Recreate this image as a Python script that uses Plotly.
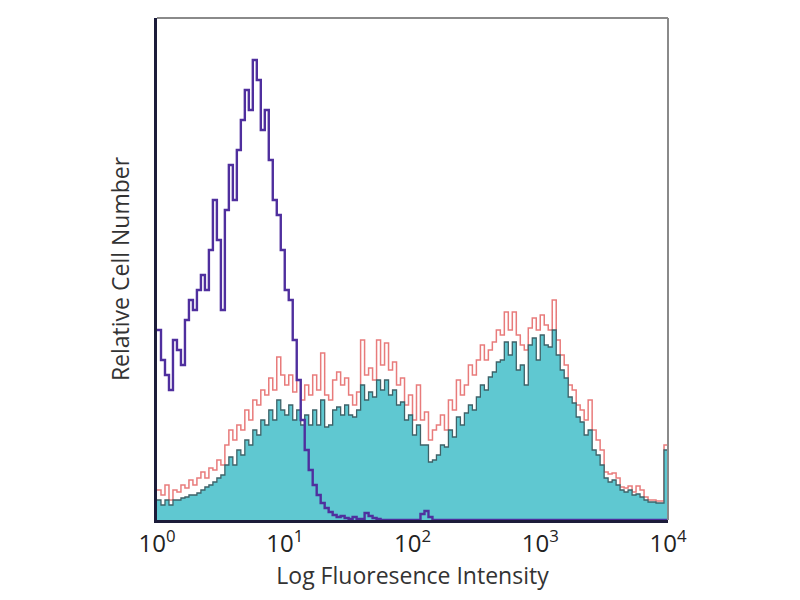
import plotly.graph_objects as go

# Histogram channels: 128 bins, 32 per decade, from 10^0 to 10^4
n_bins = 128
bins_per_decade = 32

# Relative cell number (0-100 scale)
isotype = [38, 32, 29, 26, 36, 34, 31, 40, 44, 42, 46, 49, 46, 54, 64, 56,
           42, 62, 71, 64, 74, 80, 86, 82, 92, 88, 78, 82, 72, 64, 61, 54,
           46, 44, 36, 28, 20, 14, 10, 7, 5, 3.4, 2.4, 1.6, 1.0, 0.6, 0.8, 0.4,
           0.2, 0.6, 0.2, 0.2, 1.4, 0.8, 0.4, 0.2, 0, 0, 0, 0, 0, 0, 0, 0,
           0, 0, 1.2, 1.8, 0.6, 0, 0, 0, 0, 0, 0, 0, 0, 0, 0, 0,
           0, 0, 0, 0, 0, 0, 0, 0, 0, 0, 0, 0, 0, 0, 0, 0,
           0, 0, 0, 0, 0, 0, 0, 0, 0, 0, 0, 0, 0, 0, 0, 0,
           0, 0, 0, 0, 0, 0, 0, 0, 0, 0, 0, 0, 0, 0, 0, 0]

stained_fill = [4.0, 3.0, 4.0, 3.0, 4.0, 4.0, 4.4, 4.6, 5.0, 5.0, 5.4, 6.0, 6.6, 7.0, 7.6, 8.4,
                9.0, 11.0, 12.6, 11.0, 14.0, 13.0, 16.0, 15.0, 18.0, 17.0, 20.0, 19.0, 22.0, 20.0, 24.0, 22.0,
                21.0, 23.0, 20.0, 22.0, 19.0, 21.0, 19.0, 22.0, 19.0, 24.0, 18.6, 19.0, 22.0, 22.6, 21.0, 23.0,
                21.0, 20.6, 22.0, 27.0, 24.0, 25.6, 24.6, 28.0, 26.0, 28.0, 25.0, 26.0, 23.0, 23.6, 20.0, 21.0,
                17.0, 19.0, 15.0, 15.0, 11.6, 12.0, 13.0, 15.0, 14.6, 18.0, 16.6, 20.6, 19.0, 21.4, 23.0, 22.0,
                24.6, 27.0, 26.0, 28.6, 29.6, 31.6, 32.0, 35.6, 33.0, 35.6, 30.0, 31.0, 27.0, 35.0, 36.4, 32.0,
                37.0, 35.0, 34.6, 38.0, 33.0, 30.0, 28.4, 24.6, 23.4, 20.6, 19.6, 17.0, 18.0, 14.0, 13.0, 11.0,
                8.4, 7.6, 8.0, 7.0, 6.0, 5.6, 6.0, 5.0, 5.2, 4.6, 4.0, 3.6, 3.6, 3.4, 3.4, 14.0]

stained_line = [6.0, 5.0, 7.0, 4.0, 6.0, 5.6, 7.0, 6.4, 8.0, 7.0, 8.4, 9.6, 8.4, 10.4, 10.0, 12.0,
                11.0, 15.0, 18.0, 16.0, 19.0, 18.0, 22.0, 20.0, 24.0, 23.0, 26.0, 25.0, 28.4, 26.0, 32.6, 29.0,
                27.0, 29.0, 25.6, 28.0, 24.0, 27.0, 25.0, 29.0, 26.0, 33.4, 25.0, 24.0, 28.0, 29.6, 27.0, 28.4,
                25.0, 23.0, 25.6, 36.0, 29.0, 30.4, 28.0, 36.0, 31.0, 35.4, 30.0, 31.6, 27.0, 28.4, 23.0, 25.0,
                20.0, 27.0, 20.0, 21.6, 16.0, 18.0, 19.0, 21.0, 18.0, 24.0, 22.0, 28.0, 25.0, 27.0, 31.0, 29.0,
                32.0, 35.0, 32.0, 34.0, 35.6, 38.0, 37.0, 41.6, 38.0, 41.6, 37.0, 35.0, 34.0, 38.4, 40.4, 38.0,
                41.0, 39.0, 38.0, 44.0, 36.0, 33.0, 31.0, 27.0, 26.0, 23.0, 22.0, 20.0, 24.0, 18.0, 16.0, 14.0,
                9.6, 9.2, 9.4, 8.4, 6.6, 6.4, 6.8, 5.6, 6.8, 6.0, 4.6, 4.0, 4.0, 3.8, 3.8, 15.0]

tick_vals = [1, 10, 100, 1000, 10000]
tick_text = ["10<sup>0</sup>", "10<sup>1</sup>", "10<sup>2</sup>", "10<sup>3</sup>", "10<sup>4</sup>"]

# bin edges (left) plus the final right edge for step drawing
edges = [10 ** (i / bins_per_decade) for i in range(n_bins + 1)]


def steps(vals):
    return vals + [vals[-1]]


fig = go.Figure()

fig.add_trace(go.Scatter(
    x=edges, y=steps(stained_line), mode="lines", line_shape="hv",
    line=dict(color="rgba(228,100,100,0.85)", width=1.5), showlegend=False, hoverinfo="skip"))

fig.add_trace(go.Scatter(
    x=edges, y=steps(stained_fill), mode="lines", line_shape="hv", fill="tozeroy",
    fillcolor="#5fc8d1", line=dict(color="#3e6268", width=1.3), showlegend=False, hoverinfo="skip"))

fig.add_trace(go.Scatter(
    x=edges, y=steps(isotype), mode="lines", line_shape="hv",
    line=dict(color="#4f2f9e", width=2.4), showlegend=False, hoverinfo="skip"))

# top and right frame (grey)
fig.add_shape(type="line", xref="paper", yref="paper", x0=0, x1=1, y0=1, y1=1,
              line=dict(color="#8a8a8a", width=2))
fig.add_shape(type="line", xref="paper", yref="paper", x0=1, x1=1, y0=0, y1=1,
              line=dict(color="#8a8a8a", width=2))

fig.update_layout(
    width=800, height=600,
    margin=dict(l=149, r=140, t=10, b=88),
    paper_bgcolor="white", plot_bgcolor="white",
    font=dict(family="Open Sans, Lato, sans-serif", color="#222222"),
    xaxis=dict(type="log", range=[0, 4], tickvals=tick_vals, ticktext=tick_text,
               automargin=False,
               showgrid=False, zeroline=False, showline=True, linecolor="#1c1c3a", linewidth=3,
               ticks="", tickfont=dict(size=24, color="#222222"),
               title=dict(text="Log Fluoresence Intensity", font=dict(size=23, color="#333333"), standoff=8)),
    yaxis=dict(range=[0, 100.4], showticklabels=False, showgrid=False, zeroline=False,
               automargin=False,
               showline=True, linecolor="#1c1c3a", linewidth=3, ticks="",
               title=dict(text="Relative Cell Number", font=dict(size=23, color="#333333"), standoff=18)),
)

fig.write_html("out.html")
